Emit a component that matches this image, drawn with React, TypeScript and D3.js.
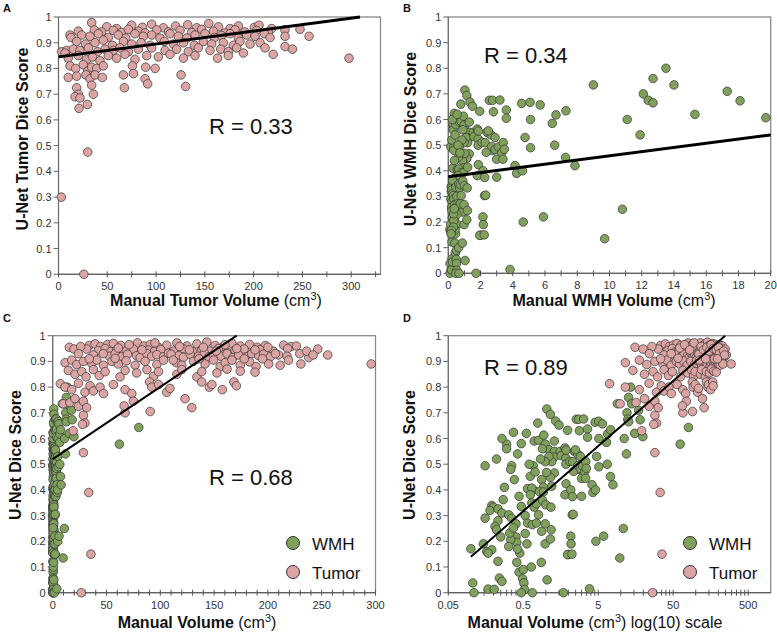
import React from "react";
import * as d3 from "d3";

type Pt = [number, number];

// ---------- DATA ----------
const yTickValues = [0, 0.1, 0.2, 0.3, 0.4, 0.5, 0.6, 0.7, 0.8, 0.9, 1];
const yTickLabels = ["0", "0.1", "0.2", "0.3", "0.4", "0.5", "0.6", "0.7", "0.8", "0.9", "1"];

const xTicksA = [0, 50, 100, 150, 200, 250, 300];
const xMinorA = [25, 75, 125, 175, 225, 275, 325];
const xTicksB = [0, 2, 4, 6, 8, 10, 12, 14, 16, 18, 20];
const xMinorB = [1, 3, 5, 7, 9, 11, 13, 15, 17, 19];
const xTicksC = [0, 50, 100, 150, 200, 250, 300];
const xMinorC = [10, 20, 30, 40, 60, 70, 80, 90, 110, 120, 130, 140, 160, 170, 180, 190, 210, 220, 230, 240, 260, 270, 280, 290];
const xTicksD = [0.05, 0.5, 5, 50, 500];
const xTickLabelsD = ["0.05", "0.5", "5", "50", "500"];
const xMinorFactorsD = [2, 3, 4, 5, 6, 7, 8, 9];

// Panel A: tumor volume (cm3) vs U-Net tumor Dice
const tumorA: Pt[] = [
  [34, 0.978], [49.4, 0.962], [59.6, 0.955], [75, 0.968], [86, 0.96], [95.5, 0.972], [107.5, 0.958], [120, 0.965], [132.4, 0.97], [141.6, 0.958], [154, 0.975], [164, 0.962], [175.8, 0.955], [184.3, 0.965], [200.7, 0.96], [205.5, 0.968], [218.5, 0.955],
  [11.8, 0.93], [20.3, 0.945], [36.7, 0.95], [44.2, 0.942], [56.2, 0.948], [64.7, 0.94], [71.6, 0.952], [81.8, 0.945], [88.7, 0.938], [100.6, 0.95], [112.6, 0.942], [124.6, 0.948], [136.5, 0.94], [146.7, 0.952], [158.7, 0.945], [170.6, 0.938], [180.9, 0.95], [191, 0.942], [203, 0.948], [215, 0.94], [232, 0.95], [247.5, 0.952],
  [12.8, 0.92], [23.7, 0.93], [32.3, 0.925], [40.9, 0.935], [51, 0.92], [61.3, 0.93], [68.9, 0.918], [78.4, 0.935], [87, 0.925], [95.5, 0.93], [104, 0.918], [114.3, 0.935], [122.8, 0.925], [131.4, 0.918], [139.9, 0.93], [150, 0.935], [159.7, 0.92], [167, 0.928], [175.8, 0.935], [184.3, 0.918], [192.9, 0.93], [201.4, 0.925], [211, 0.935], [216.8, 0.92], [232.2, 0.925], [256.8, 0.925],
  [3.2, 0.865], [8.4, 0.87], [18.6, 0.905], [27.8, 0.895], [37.4, 0.9], [46, 0.91], [55.2, 0.89], [66.5, 0.905], [75, 0.895], [84.6, 0.9], [93.8, 0.89], [108.5, 0.905], [117.7, 0.895], [128, 0.9], [139.2, 0.89], [148.4, 0.905], [157, 0.895], [168.9, 0.9], [179.2, 0.89], [186, 0.905], [196.3, 0.895], [206.6, 0.9], [211.7, 0.88], [232.2, 0.885], [239.8, 0.875],
  [6.7, 0.86], [15.2, 0.875], [22, 0.87], [30.6, 0.88], [40.1, 0.865], [47.7, 0.875], [56.2, 0.87], [63, 0.88], [71.6, 0.865], [81.8, 0.875], [95.5, 0.88], [109.2, 0.87], [121, 0.875], [133, 0.865], [143.3, 0.88], [155.3, 0.87], [166.3, 0.875], [174, 0.865], [182.6, 0.88], [189.5, 0.86], [220, 0.855],
  [10, 0.84], [20.3, 0.85], [28.9, 0.835], [34.7, 0.845], [42.5, 0.83], [51, 0.85], [59.6, 0.84], [68.2, 0.855], [78.4, 0.835], [90.4, 0.85], [102.3, 0.845], [114.3, 0.855], [128, 0.84], [139.9, 0.85], [163, 0.84], [174, 0.85],
  [11.8, 0.81], [17.6, 0.8], [25.4, 0.815], [29.9, 0.79], [34, 0.805], [39.2, 0.8], [46, 0.81], [75.7, 0.81], [89.3, 0.805], [99, 0.8],
  [10, 0.765], [18.6, 0.77], [28.2, 0.775], [32.3, 0.76], [37.4, 0.775], [45, 0.765], [66.5, 0.775], [76.8, 0.78], [88.7, 0.76], [125.6, 0.775],
  [18.6, 0.725], [20.3, 0.7], [34, 0.735], [67.5, 0.725], [91.4, 0.74], [130.3, 0.73],
  [16.9, 0.69], [22, 0.685], [35.7, 0.7], [29.6, 0.66], [21, 0.645],
  [297.7, 0.84], [3, 0.3], [30, 0.475], [26, 0],
];

// WMH volume (cm3) vs U-Net WMH Dice (panels B, C, D)
const wmh: Pt[] = [
  [0.1, 0.171], [0.106, 0.038], [0.11, 0.0], [0.155, 0.494], [0.147, 0.19], [0.163, 0.16], [0.17, 0.014], [0.205, 0.013],
  [0.3, 0.578], [0.3, 0.56], [0.37, 0.624], [0.47, 0.58], [0.35, 0.494], [0.34, 0.48], [0.28, 0.41], [0.57, 0.405],
  [0.7, 0.59], [0.8, 0.593], [0.94, 0.613], [0.98, 0.578], [1.03, 0.715], [1.15, 0.694], [1.3, 0.59], [1.35, 0.668], [1.5, 0.652],
  [1.1, 0.556], [1.3, 0.55], [1.3, 0.528], [1.2, 0.51], [1.1, 0.53], [0.98, 0.51], [0.85, 0.52], [1.3, 0.466], [1.15, 0.449],
  [0.88, 0.44], [1.02, 0.468], [0.93, 0.411], [0.68, 0.494], [0.62, 0.453], [0.68, 0.4], [0.65, 0.407], [0.82, 0.393], [0.93, 0.392],
  [1.2, 0.414], [0.44, 0.375], [0.62, 0.381], [0.19, 0.339], [0.2, 0.333], [0.155, 0.29], [0.18, 0.32], [0.23, 0.326], [0.26, 0.31],
  [0.27, 0.362], [0.23, 0.28], [0.21, 0.258], [0.22, 0.245], [0.25, 0.217], [0.32, 0.303], [0.35, 0.29], [0.4, 0.268], [0.4, 0.217],
  [0.41, 0.196], [0.47, 0.336], [0.53, 0.3], [0.65, 0.349], [0.7, 0.333], [0.75, 0.346], [0.8, 0.303], [0.9, 0.36], [1.0, 0.342],
  [1.17, 0.333], [0.57, 0.271], [0.66, 0.265], [0.75, 0.271], [0.88, 0.239], [0.98, 0.268], [1.18, 0.245], [0.56, 0.19], [0.53, 0.23],
  [0.34, 0.206], [0.33, 0.232], [0.37, 0.252], [0.45, 0.154], [0.42, 0.17], [0.23, 0.122], [0.32, 0.18], [0.19, 0.167], [0.17, 0.154],
  [0.24, 0.057], [0.26, 0.044], [0.41, 0.118], [0.44, 0.08], [0.5, 0.09], [0.49, 0.054], [0.51, 0.038], [0.64, 0.1], [0.87, 0.118],
  [0.98, 0.19], [1.15, 0.209], [0.52, 0.012], [0.47, 0.0], [0.66, 0.0], [1.04, 0.05],
  [0.22, 0.52], [0.26, 0.6], [0.42, 0.54], [0.55, 0.62], [0.6, 0.5], [0.78, 0.66], [0.9, 0.56], [0.72, 0.47], [0.38, 0.44],
  [1.55, 0.55], [1.6, 0.533], [1.8, 0.563], [1.85, 0.524], [1.8, 0.381], [1.85, 0.5], [1.95, 0.632], [2.0, 0.149], [2.1, 0.511],
  [2.25, 0.303], [2.4, 0.55], [2.65, 0.54], [2.9, 0.53], [2.75, 0.479], [2.35, 0.472],
  [1.72, 0.0], [1.86, 0.555], [1.86, 0.424], [1.95, 0.148], [2.15, 0.4], [2.15, 0.22], [2.17, 0.19], [2.23, 0.15], [2.26, 0.374],
  [2.28, 0.51], [2.32, 0.305], [2.48, 0.556], [2.55, 0.675], [2.69, 0.495], [2.75, 0.675], [2.8, 0.63], [2.9, 0.483], [3.0, 0.445],
  [3.0, 0.375], [3.1, 0.493], [3.2, 0.676], [3.31, 0.47], [3.39, 0.445], [3.41, 0.51], [3.47, 0.484], [3.6, 0.637], [3.6, 0.605],
  [3.83, 0.015], [4.14, 0.42], [4.24, 0.39], [4.55, 0.663], [4.6, 0.4], [4.65, 0.2], [4.76, 0.53], [5.07, 0.667], [5.1, 0.49],
  [5.1, 0.6], [5.7, 0.657], [5.9, 0.22], [6.45, 0.585], [6.6, 0.5], [6.68, 0.618], [7.28, 0.452], [7.3, 0.634], [7.86, 0.42],
  [9.0, 0.735], [9.7, 0.135], [10.8, 0.25], [11.1, 0.6], [11.9, 0.54], [12.1, 0.7], [12.4, 0.675], [12.7, 0.665], [12.7, 0.76],
  [13.5, 0.8], [14.0, 0.735], [15.3, 0.62], [17.3, 0.71], [18.1, 0.673], [19.7, 0.607], [62, 0.578], [80, 0.643],
];

// Tumor volume vs Dice used in panels C and D
const tumorCD: Pt[] = [
  [15.5, 0.955], [19.8, 0.948], [34, 0.962], [39.4, 0.968], [44.6, 0.958], [50.9, 0.965], [56.4, 0.97], [63.3, 0.962], [73.5, 0.958], [78.8, 0.972], [85, 0.96], [90.6, 0.966], [98.3, 0.955], [106, 0.963], [115.4, 0.972], [124.7, 0.96], [134, 0.968], [143.3, 0.975], [151, 0.962], [158.8, 0.958], [166.6, 0.97], [174.3, 0.96], [183, 0.966], [190, 0.955], [197.6, 0.962], [214.7, 0.963], [221.5, 0.958], [226.5, 0.96],
  [31.6, 0.948], [42.4, 0.942], [48.7, 0.95], [54, 0.938], [59.5, 0.945], [68.3, 0.94], [75, 0.948], [82.8, 0.935], [89, 0.944], [94.3, 0.938], [100.5, 0.946], [112.3, 0.94], [121, 0.95], [130, 0.938], [138.5, 0.946], [146.3, 0.94], [154, 0.95], [162.5, 0.935], [169.4, 0.944], [177.9, 0.948], [186.3, 0.936], [192.5, 0.945], [204.8, 0.94], [218.4, 0.95], [246.4, 0.948],
  [37.8, 0.925], [52.7, 0.92], [58, 0.93], [64.2, 0.918], [69.5, 0.928], [78, 0.922], [81.3, 0.915], [87.5, 0.93], [92.1, 0.92], [96.8, 0.926], [103, 0.918], [107.6, 0.932], [117, 0.922], [121.6, 0.916], [127.8, 0.928], [135.6, 0.92], [141, 0.932], [145, 0.918], [149.5, 0.926], [156.4, 0.92], [162, 0.93], [167.5, 0.915], [172.8, 0.925], [180.5, 0.918], [185, 0.93], [191.4, 0.922], [196, 0.928], [202.3, 0.918], [210, 0.925], [217.8, 0.92], [229.6, 0.93], [238, 0.915], [255.6, 0.925],
  [11.5, 0.895], [17.7, 0.905], [22.3, 0.888], [28.5, 0.9], [36.3, 0.892], [41, 0.905], [47.2, 0.885], [55, 0.9], [61, 0.89], [68.3, 0.902], [76.6, 0.885], [85.9, 0.9], [96.8, 0.888], [103, 0.905], [114.8, 0.895], [120, 0.885], [130.8, 0.9], [141.6, 0.89], [149.5, 0.905], [155.7, 0.88], [160.3, 0.895], [166.6, 0.905], [174.3, 0.885], [183, 0.898], [189, 0.88], [200.7, 0.89], [211.4, 0.885], [219.2, 0.905], [230.7, 0.89], [296, 0.89],
  [14.5, 0.865], [20.7, 0.85], [27, 0.86], [31, 0.84], [37.8, 0.868], [43.3, 0.845], [48.7, 0.86], [62.6, 0.84], [67.3, 0.865], [78, 0.855], [87.5, 0.868], [93.7, 0.842], [98.3, 0.86], [115.4, 0.85], [120, 0.868], [134, 0.84], [138.5, 0.86], [152.6, 0.855], [162, 0.87], [174.3, 0.862], [188, 0.858],
  [7.1, 0.813], [11.5, 0.8], [17.7, 0.79], [23.9, 0.815], [30, 0.78], [34.7, 0.805], [37.8, 0.785], [44, 0.8], [47.2, 0.775], [56.4, 0.81], [67.3, 0.79], [73.5, 0.775], [90, 0.82], [92.1, 0.8], [98.3, 0.81], [106, 0.78], [109, 0.795], [138.5, 0.82], [145.6, 0.8], [148, 0.81], [157.6, 0.79], [168.4, 0.82], [170.7, 0.805],
  [9.8, 0.735], [16, 0.74], [20.7, 0.755], [23.9, 0.725], [28.5, 0.745], [31.6, 0.72], [67.3, 0.7], [75, 0.745], [90.6, 0.705], [123, 0.755], [129.3, 0.72], [28.5, 0.69], [66.4, 0.727],
  [26, 0.958], [47, 0.93], [61, 0.952], [71, 0.965], [83, 0.945], [95, 0.972], [110, 0.928], [118, 0.958], [127, 0.945], [140, 0.955], [152, 0.94], [160, 0.965], [171, 0.95], [188, 0.945], [200, 0.955], [207, 0.93], [236, 0.94], [242, 0.925], [112, 0.905], [136, 0.91], [178, 0.91], [195, 0.91], [58, 0.912], [34, 0.91], [24, 0.93],
  [19, 0.63], [30, 0.66], [27.6, 0.655], [28.5, 0.545], [33.5, 0.39], [35.5, 0.15], [26.5, 0],
];

// Regression lines (two end points in data units)
const trendA: Pt[] = [[0, 0.845], [309, 1]];
const trendB: Pt[] = [[0, 0.377], [20, 0.54]];
const trendC: Pt[] = [[0, 0.52], [171, 1]];
const trendD: Pt[] = [[0.1, 0.14], [247, 1]];

const rLabels = ["R = 0.33", "R = 0.34", "R = 0.68", "R = 0.89"];
const legendLabels = ["WMH", "Tumor"];

// ---------- STYLE ----------
const FONT = "'Liberation Sans', Arial, Helvetica, sans-serif";
const PINK = "#dca4a3";
const GREEN = "#7fa15c";
const DOT_STROKE = "#333333";
const TICK_COLOR = "#333333";

type Series = { data: Pt[]; color: string };

type PanelProps = {
  x0: number; x1: number; y0: number; y1: number;
  xScale: any;
  xMajor: number[]; xMajorLabels: string[]; xMinor: number[];
  series: Series[];
  trend: Pt[]; trendWidth: number;
  rText: string; rX: number; rY: number;
  letter: string; letterX: number; letterY: number;
  yTitle: string; yTitleX: number; yTitleY: number;
  xTitleBold: string; xTitleTail: string; xTitleX: number; xTitleY: number;
  legend?: { x: number; y: number; textX: number };
};

function Panel(p: PanelProps) {
  const y = d3.scaleLinear().domain([0, 1]).range([p.y1, p.y0]);
  const x = p.xScale;
  const line = d3.line<Pt>().x((d) => x(d[0])).y((d) => y(d[1]));
  return (
    <g>
      <rect x={p.x0} y={p.y0} width={p.x1 - p.x0} height={p.y1 - p.y0} fill="white" stroke="#8a8a8a" strokeWidth={1.3} />
      <line x1={p.x0} x2={p.x0} y1={p.y0} y2={p.y1} stroke="#6a6a6a" strokeWidth={1} />
      <line x1={p.x0} x2={p.x1} y1={p.y1} y2={p.y1} stroke="#555" strokeWidth={1} />
      {yTickValues.map((v, i) => (
        <g key={"yt" + i}>
          <line x1={p.x0 - 5} x2={p.x0} y1={y(v)} y2={y(v)} stroke="#666" strokeWidth={1} />
          <text x={p.x0 - 7} y={y(v) + 4} textAnchor="end" fontSize={11} fontFamily={FONT} fill={TICK_COLOR}>{yTickLabels[i]}</text>
        </g>
      ))}
      {p.xMajor.map((v, i) => (
        <g key={"xt" + i}>
          <line x1={x(v)} x2={x(v)} y1={p.y1 - 3} y2={p.y1 + 3} stroke="#555" strokeWidth={1} />
          <text x={x(v)} y={p.y1 + 16} textAnchor="middle" fontSize={11} fontFamily={FONT} fill={TICK_COLOR}>{p.xMajorLabels[i]}</text>
        </g>
      ))}
      {p.xMinor.map((v, i) => (
        <line key={"xm" + i} x1={x(v)} x2={x(v)} y1={p.y1 - 3} y2={p.y1 + 3} stroke="#555" strokeWidth={1} />
      ))}
      {p.series.map((s, si) => (
        <g key={"s" + si}>
          {s.data.map((d, i) => (
            <circle key={i} cx={x(d[0])} cy={y(d[1])} r={4.3} fill={s.color} stroke={DOT_STROKE} strokeWidth={0.7} />
          ))}
        </g>
      ))}
      <path d={line(p.trend) || ""} stroke="black" strokeWidth={p.trendWidth} fill="none" />
      <text x={p.rX} y={p.rY} fontSize={22} fontFamily={FONT} fill="#111">{p.rText}</text>
      <text x={p.letterX} y={p.letterY} fontSize={11} fontWeight="bold" fontFamily={FONT} fill="#111">{p.letter}</text>
      <text transform={`translate(${p.yTitleX},${p.yTitleY}) rotate(-90)`} textAnchor="middle" fontSize={16} fontWeight="bold" fontFamily={FONT} fill="#111">{p.yTitle}</text>
      <text x={p.xTitleX} y={p.xTitleY} textAnchor="middle" fontSize={16} fontFamily={FONT} fill="#111">
        <tspan fontWeight="bold">{p.xTitleBold}</tspan>
        <tspan> (cm</tspan>
        <tspan fontSize={11} dy={-6}>3</tspan>
        <tspan dy={6}>{p.xTitleTail}</tspan>
      </text>
      {p.legend && (
        <g>
          <circle cx={p.legend.x} cy={p.legend.y} r={6.5} fill={GREEN} stroke={DOT_STROKE} strokeWidth={1} />
          <text x={p.legend.textX} y={p.legend.y + 6.5} fontSize={17} fontFamily={FONT} fill="#111">{legendLabels[0]}</text>
          <circle cx={p.legend.x} cy={p.legend.y + 29} r={6.5} fill={PINK} stroke={DOT_STROKE} strokeWidth={1} />
          <text x={p.legend.textX} y={p.legend.y + 35.5} fontSize={17} fontFamily={FONT} fill="#111">{legendLabels[1]}</text>
        </g>
      )}
    </g>
  );
}

export default function App() {
  const A = { x0: 58.5, x1: 380.5, y0: 17, y1: 274.3 };
  const B = { x0: 448.3, x1: 770.7, y0: 17, y1: 273.3 };
  const C = { x0: 52.7, x1: 375.5, y0: 335.7, y1: 592.7 };
  const D = { x0: 448.3, x1: 770.7, y0: 335.7, y1: 592.7 };

  const xA = d3.scaleLinear().domain([0, 330]).range([A.x0, A.x1]);
  const xB = d3.scaleLinear().domain([0, 20]).range([B.x0, B.x1]);
  const xC = d3.scaleLinear().domain([0, 300]).range([C.x0, C.x1]);
  const xD = d3.scaleLog().domain([0.05, 1000]).range([D.x0, D.x1]);

  const minorD: number[] = [];
  xTicksD.forEach((m) => xMinorFactorsD.forEach((k) => { if (m * k < 1000) minorD.push(m * k); }));

  return (
    <svg width={777} height={634} viewBox="0 0 777 634" style={{ position: "absolute", left: 0, top: 0, background: "white" }}>
      <rect x={0} y={0} width={777} height={634} fill="white" />
      <Panel {...A} xScale={xA} xMajor={xTicksA} xMajorLabels={xTicksA.map(String)} xMinor={xMinorA}
        series={[{ data: tumorA, color: PINK }]} trend={trendA} trendWidth={3}
        rText={rLabels[0]} rX={209} rY={134} letter="A" letterX={3} letterY={12}
        yTitle="U-Net Tumor Dice Score" yTitleX={28} yTitleY={139}
        xTitleBold="Manual Tumor Volume" xTitleTail=")" xTitleX={216} xTitleY={306} />
      <Panel {...B} xScale={xB} xMajor={xTicksB} xMajorLabels={xTicksB.map(String)} xMinor={xMinorB}
        series={[{ data: wmh.filter((d) => d[0] <= 20), color: GREEN }]} trend={trendB} trendWidth={3}
        rText={rLabels[1]} rX={484} rY={63} letter="B" letterX={403} letterY={12}
        yTitle="U-Net WMH Dice Score" yTitleX={416} yTitleY={139}
        xTitleBold="Manual WMH Volume" xTitleTail=")" xTitleX={614} xTitleY={306} />
      <Panel {...C} xScale={xC} xMajor={xTicksC} xMajorLabels={xTicksC.map(String)} xMinor={xMinorC}
        series={[{ data: wmh, color: GREEN }, { data: tumorCD, color: PINK }]} trend={trendC} trendWidth={2}
        rText={rLabels[2]} rX={209} rY={485} letter="C" letterX={3} letterY={322}
        yTitle="U-Net Dice Score" yTitleX={21} yTitleY={455}
        xTitleBold="Manual Volume" xTitleTail=")" xTitleX={197} xTitleY={628}
        legend={{ x: 293, y: 543, textX: 312 }} />
      <Panel {...D} xScale={xD} xMajor={xTicksD} xMajorLabels={xTickLabelsD} xMinor={minorD}
        series={[{ data: wmh, color: GREEN }, { data: tumorCD, color: PINK }]} trend={trendD} trendWidth={2}
        rText={rLabels[3]} rX={484} rY={375} letter="D" letterX={403} letterY={322}
        yTitle="U-Net Dice Score" yTitleX={415} yTitleY={455}
        xTitleBold="Manual Volume" xTitleTail=") log(10) scale" xTitleX={595} xTitleY={628}
        legend={{ x: 690, y: 543, textX: 709 }} />
    </svg>
  );
}
